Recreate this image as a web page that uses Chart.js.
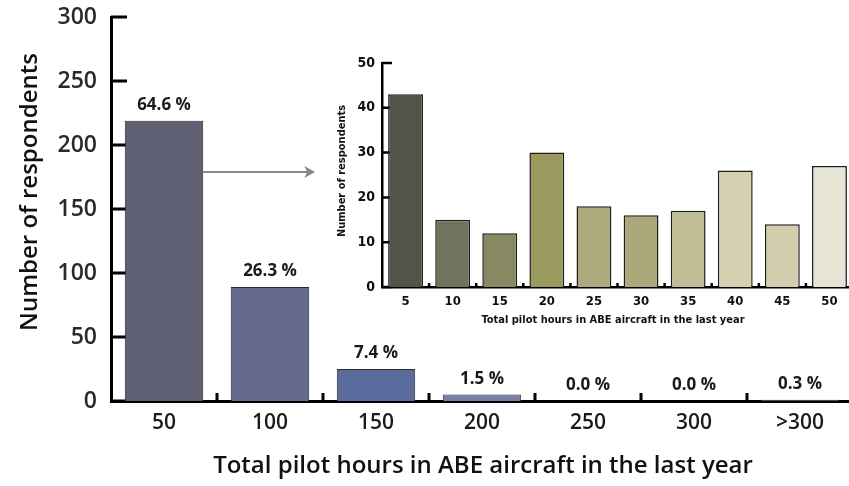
<!DOCTYPE html>
<html lang="en">
<head>
<meta charset="utf-8">
<title>Pilot hours in ABE aircraft</title>
<script src="https://cdn.jsdelivr.net/npm/chart.js@4.4.1/dist/chart.umd.min.js"></script>
<style>
  html, body { margin: 0; padding: 0; background: #fff; overflow: hidden; }
  #wrap { position: relative; width: 849px; height: 486px; overflow: hidden; }
  #mainChart { position: absolute; left: 0; top: 0; }
  #insetChart { position: absolute; left: 320px; top: 50px; }
</style>
</head>
<body>
<div id="wrap">
  <canvas id="mainChart" width="856" height="486"></canvas>
  <canvas id="insetChart" width="536" height="285"></canvas>
</div>
<script>
// main chart: respondents per 50 h bin
const hourBins = ['50', '100', '150', '200', '250', '300', '>300'];
const respondents = [219, 89, 25, 5, 0, 0, 1];
const shareLabels = ['64.6 %', '26.3 %', '7.4 %', '1.5 %', '0.0 %', '0.0 %', '0.3 %'];
const binColors = ['#5f6074', '#646a8c', '#5a6a9c', '#7b80a8', '#7b80a8', '#7b80a8', '#5f6074'];
const mainTicks = [0, 50, 100, 150, 200, 250, 300];

// inset: the first bin split in 5 h steps
const smallBins = ['5', '10', '15', '20', '25', '30', '35', '40', '45', '50'];
const smallRespondents = [43, 15, 12, 30, 18, 16, 17, 26, 14, 27];
const smallColors = ['#525349', '#71735e', '#888862', '#9b9a5e', '#acaa7c', '#aba97b', '#c0bd96', '#d4d0b0', '#d3cfae', '#e6e4d5'];
const insetTicks = [0, 10, 20, 30, 40, 50];

const xTitle = 'Total pilot hours in ABE aircraft in the last year';
const yTitle = 'Number of respondents';

const mainFont = "'Open Sans', 'Noto Sans', sans-serif";
const narrowFont = "'Liberation Sans Narrow', 'DejaVu Sans Condensed', sans-serif";

// small inward ticks on y, short upward ticks between categories on x
function axisTicks(opts) {
    return {
        id: 'axisTicks',
        beforeDatasetsDraw(chart) {
            const { ctx, chartArea, scales: { x, y } } = chart;
            ctx.save();
            ctx.strokeStyle = '#000';
            ctx.lineWidth = opts.width;
            ctx.beginPath();
            opts.yValues.forEach(v => {
                const py = y.getPixelForValue(v);
                ctx.moveTo(chartArea.left, py);
                ctx.lineTo(chartArea.left + opts.yLen, py);
            });
            for (let i = 1; i < x.ticks.length; i++) {
                const px = (x.getPixelForValue(i - 1) + x.getPixelForValue(i)) / 2;
                ctx.moveTo(px, chartArea.bottom);
                ctx.lineTo(px, chartArea.bottom - opts.xLen);
            }
            ctx.stroke();
            ctx.restore();
        }
    };
}

function axisTitles(opts) {
    return {
        id: 'axisTitles',
        afterDraw(chart) {
            const { ctx } = chart;
            ctx.save();
            ctx.fillStyle = opts.color;
            ctx.font = opts.font;
            ctx.textAlign = 'center';
            ctx.textBaseline = 'middle';
            ctx.fillText(xTitle, opts.xTitleX, opts.xTitleY);
            ctx.translate(opts.yTitleX, opts.yTitleY);
            ctx.rotate(-Math.PI / 2);
            ctx.fillText(yTitle, 0, 0);
            ctx.restore();
        }
    };
}

const shareLabelPlugin = {
    id: 'shareLabels',
    afterDatasetsDraw(chart) {
        const { ctx } = chart;
        const bars = chart.getDatasetMeta(0).data;
        ctx.save();
        ctx.fillStyle = '#1a1a1a';
        ctx.font = 'bold 17px ' + mainFont;
        ctx.textAlign = 'center';
        ctx.textBaseline = 'alphabetic';
        bars.forEach((bar, i) => {
            ctx.fillText(shareLabels[i], bar.x, bar.y - 11);
        });

        // arrow from the first bar towards the inset
        const first = bars[0];
        const ay = chart.scales.y.getPixelForValue(179);
        const ax0 = first.x + first.width / 2;
        const ax1 = ax0 + 112;
        ctx.strokeStyle = '#8a8a8a';
        ctx.fillStyle = '#8a8a8a';
        ctx.lineWidth = 2;
        ctx.beginPath();
        ctx.moveTo(ax0, ay);
        ctx.lineTo(ax1 - 4, ay);
        ctx.stroke();
        ctx.beginPath();
        ctx.moveTo(ax1, ay);
        ctx.lineTo(ax1 - 11, ay - 6);
        ctx.lineTo(ax1 - 8, ay);
        ctx.lineTo(ax1 - 11, ay + 6);
        ctx.closePath();
        ctx.fill();
        ctx.restore();
    }
};

new Chart(document.getElementById('mainChart'), {
    type: 'bar',
    data: {
        labels: hourBins,
        datasets: [{
            data: respondents,
            backgroundColor: binColors,
            borderColor: '#2a2a2a',
            borderWidth: 1,
            barPercentage: 0.74,
            categoryPercentage: 1.0
        }]
    },
    options: {
        responsive: false,
        animation: false,
        layout: { padding: { top: 17, right: 3, left: 0, bottom: 0 } },
        plugins: { legend: { display: false }, tooltip: { enabled: false } },
        scales: {
            x: {
                offset: true,
                grid: { display: false, drawTicks: false },
                border: { display: true, color: '#000', width: 3 },
                ticks: { color: '#1a1a1a', font: { family: mainFont, size: 21, weight: '600' }, padding: 9 },
                afterFit(scale) { scale.height = 85; scale.paddingLeft = 0; scale.paddingRight = 0; }
            },
            y: {
                min: 0,
                max: 300,
                afterBuildTicks(scale) { scale.ticks = mainTicks.map(v => ({ value: v })); },
                grid: { display: false, drawTicks: false },
                border: { display: true, color: '#000', width: 3 },
                ticks: { color: '#2a2a2a', font: { family: mainFont, size: 23, weight: '600' }, padding: 14 },
                afterFit(scale) { scale.width = 111; scale.paddingTop = 0; scale.paddingBottom = 0; }
            }
        }
    },
    plugins: [
        axisTicks({ yValues: mainTicks, yLen: 16, xLen: 8, width: 3 }),
        axisTitles({ color: '#111', font: '600 24px ' + mainFont, xTitleX: 483, xTitleY: 466, yTitleX: 30, yTitleY: 192 }),
        shareLabelPlugin
    ]
});

new Chart(document.getElementById('insetChart'), {
    type: 'bar',
    data: {
        labels: smallBins,
        datasets: [{
            data: smallRespondents,
            backgroundColor: smallColors,
            borderColor: '#1e1e1e',
            borderWidth: 1.5,
            barPercentage: 0.74,
            categoryPercentage: 1.0
        }]
    },
    options: {
        responsive: false,
        animation: false,
        layout: { padding: { top: 13, right: 3, left: 0, bottom: 0 } },
        plugins: { legend: { display: false }, tooltip: { enabled: false } },
        scales: {
            x: {
                offset: true,
                grid: { display: false, drawTicks: false },
                border: { display: true, color: '#000', width: 2.5 },
                ticks: { color: '#111', font: { family: narrowFont, size: 13, weight: 'bold' }, padding: 7 },
                afterFit(scale) { scale.height = 48; scale.paddingLeft = 0; scale.paddingRight = 0; }
            },
            y: {
                min: 0,
                max: 50,
                afterBuildTicks(scale) { scale.ticks = insetTicks.map(v => ({ value: v })); },
                grid: { display: false, drawTicks: false },
                border: { display: true, color: '#000', width: 2.5 },
                ticks: { color: '#111', font: { family: narrowFont, size: 14, weight: 'bold' }, padding: 7 },
                afterFit(scale) { scale.width = 62; scale.paddingTop = 0; scale.paddingBottom = 0; }
            }
        }
    },
    plugins: [
        axisTicks({ yValues: insetTicks, yLen: 10, xLen: 4, width: 2.5 }),
        axisTitles({ color: '#111', font: 'bold 11px ' + narrowFont, xTitleX: 293, xTitleY: 270, yTitleX: 22, yTitleY: 121 })
    ]
});
</script>
</body>
</html>
